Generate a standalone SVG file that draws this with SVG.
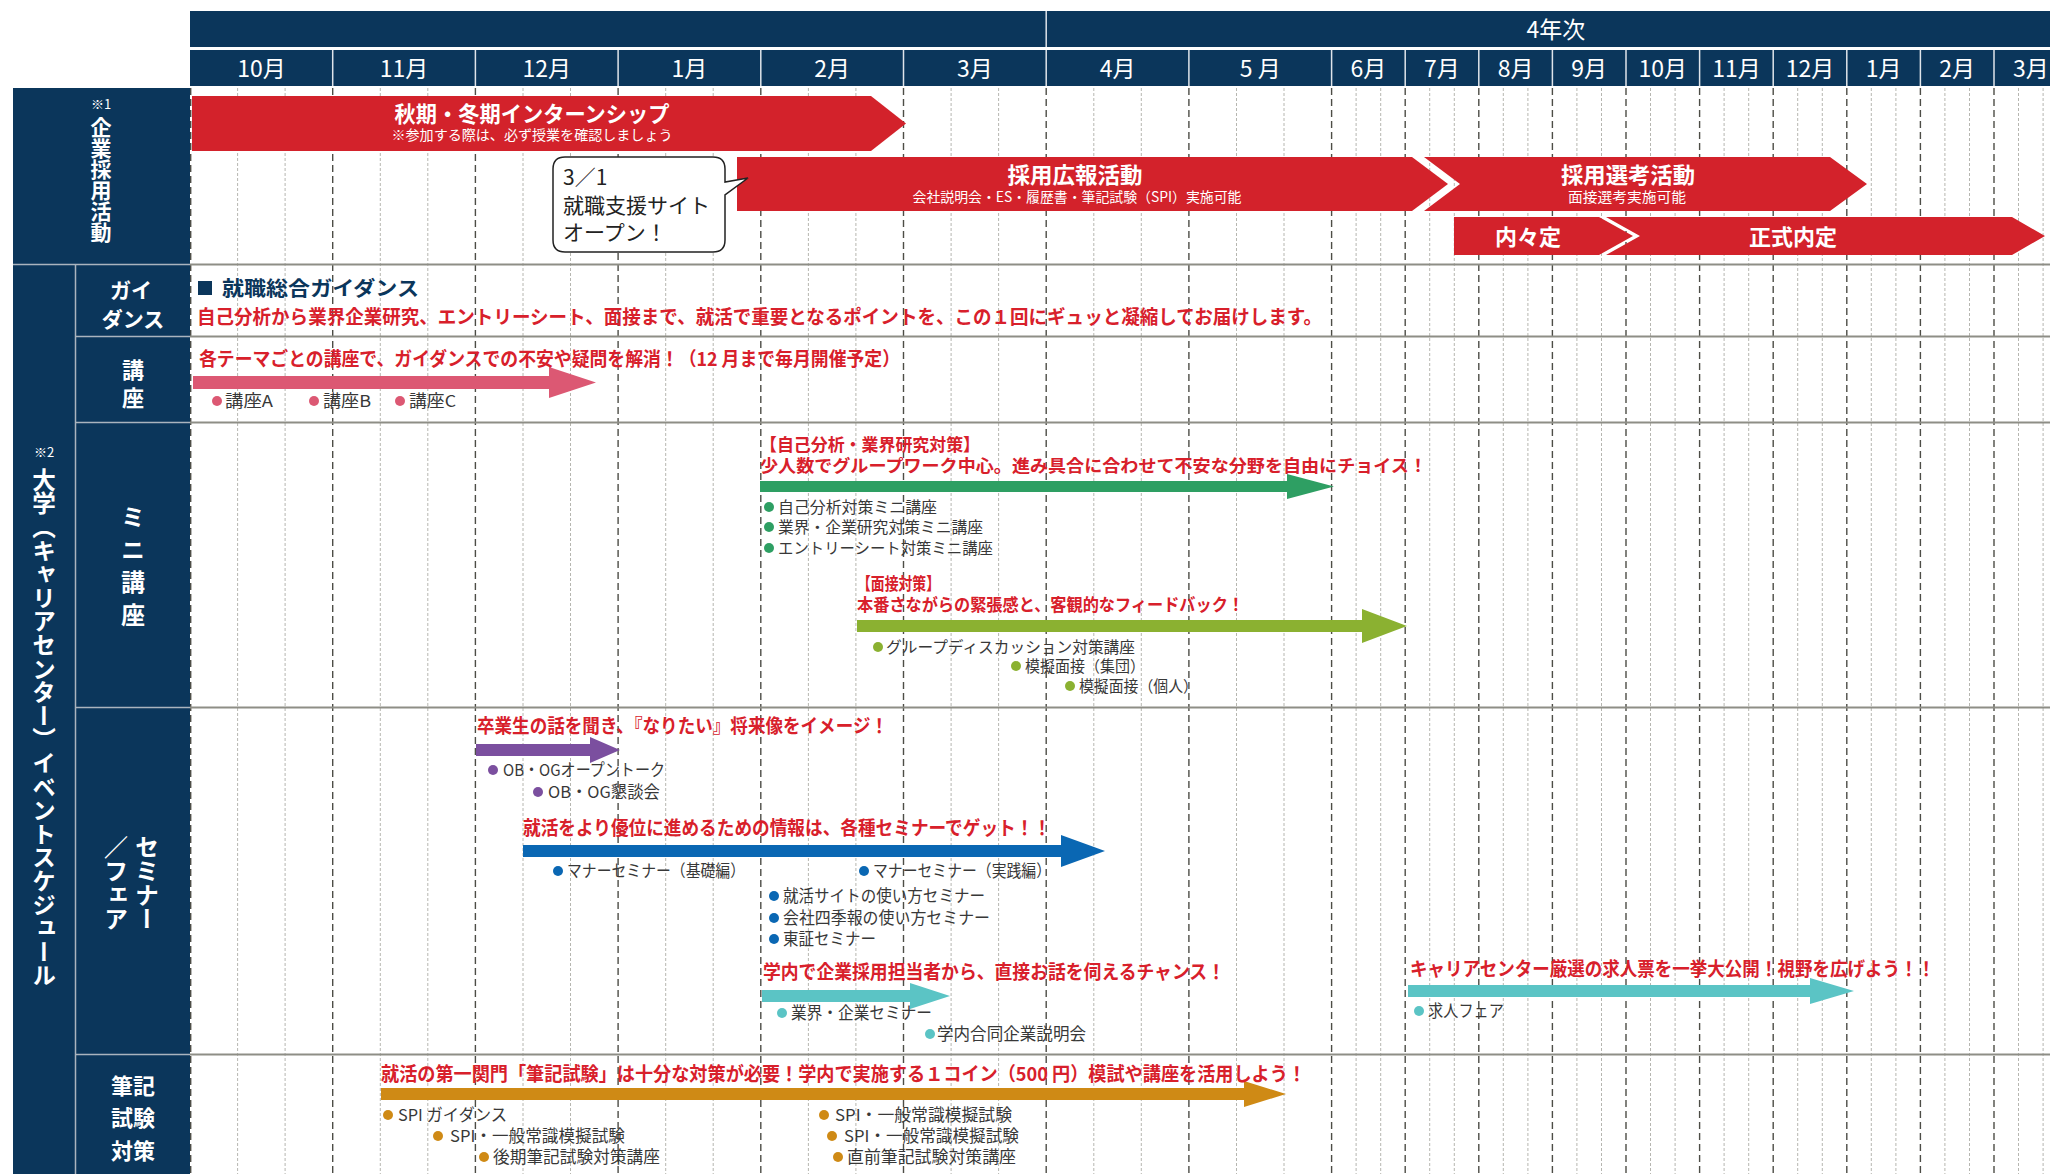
<svg xmlns="http://www.w3.org/2000/svg" width="2050" height="1174" viewBox="0 0 2050 1174">
<style>
text{font-family:"Noto Sans CJK JP","Noto Sans",sans-serif}
.navy{fill:#0b365b}
.wl{font-weight:700;fill:#fff}
.vt{writing-mode:vertical-rl}
.mon{font-size:23px;fill:#fff;text-anchor:middle}
.mj{fill:none;stroke:#4d4d46;stroke-width:1.4;stroke-dasharray:7 4}
.mn{fill:none;stroke:#a3a39c;stroke-width:0.8;stroke-dasharray:3 2}
.hsep{stroke:#8e8e86;stroke-width:2}
.lsep{stroke:#aab4be;stroke-width:1.5}
.bar{fill:#d3222b}
.bt{font-size:22px;font-weight:700;fill:#fff;text-anchor:middle}
.bs{font-size:14px;fill:#fff;text-anchor:middle}
.hl{font-size:19px;font-weight:700;fill:#d8202b}
.hs{font-size:17.5px}
.it{font-size:16.5px;fill:#383838}
.is{font-size:15.5px}
.pk{fill:#dc5873}.gr{fill:#2e9f63}.ol{fill:#8bb131}.pu{fill:#7b4f9f}.bl{fill:#0a67b3}.tl{fill:#5bc4c5}.or{fill:#cf8a15}
</style>

<g id="header">
<rect class="navy" x="190" y="11" width="1860" height="36"/>
<rect class="navy" x="190" y="50" width="1860" height="36"/>
<line x1="1046.2" y1="11" x2="1046.2" y2="47" stroke="#dfe4ea" stroke-width="1.5"/>
<text x="1556" y="38" class="mon">4年次</text>
<path d="M332.7 50V86M475.4 50V86M618.1 50V86M760.8 50V86M903.5 50V86M1046.2 50V86M1188.9 50V86M1331.6 50V86M1405.2 50V86M1478.8 50V86M1552.4 50V86M1626 50V86M1699.6 50V86M1773.2 50V86M1846.8 50V86M1920.4 50V86M1994 50V86" stroke="#dfe4ea" stroke-width="1.5"/>
<g class="mon">
<text x="261.4" y="77">10月</text><text x="404.1" y="77">11月</text><text x="546.8" y="77">12月</text><text x="689.5" y="77">1月</text><text x="832.2" y="77">2月</text><text x="974.9" y="77">3月</text><text x="1117.6" y="77">4月</text><text x="1260.3" y="77">5 月</text><text x="1368.4" y="77">6月</text><text x="1442" y="77">7月</text><text x="1515.6" y="77">8月</text><text x="1589.2" y="77">9月</text><text x="1662.8" y="77">10月</text><text x="1736.4" y="77">11月</text><text x="1810" y="77">12月</text><text x="1883.6" y="77">1月</text><text x="1957.2" y="77">2月</text><text x="2030.8" y="77">3月</text>
</g>
</g>

<g id="grid">
<path class="mn" d="M237.6 88V1174M285.1 88V1174M380.3 88V1174M427.8 88V1174M523 88V1174M570.5 88V1174M665.7 88V1174M713.2 88V1174M808.4 88V1174M855.9 88V1174M951.1 88V1174M998.6 88V1174M1093.8 88V1174M1141.3 88V1174M1236.5 88V1174M1284 88V1174M1356.1 88V1174M1380.7 88V1174M1429.7 88V1174M1454.3 88V1174M1503.3 88V1174M1527.9 88V1174M1576.9 88V1174M1601.5 88V1174M1650.5 88V1174M1675.1 88V1174M1724.1 88V1174M1748.7 88V1174M1797.7 88V1174M1822.3 88V1174M1871.3 88V1174M1895.9 88V1174M1944.9 88V1174M1969.5 88V1174M2018.5 88V1174M2043.1 88V1174"/>
<path class="mj" d="M190.7 88V1174M332.7 88V1174M475.4 88V1174M618.1 88V1174M760.8 88V1174M903.5 88V1174M1046.2 88V1174M1188.9 88V1174M1331.6 88V1174M1405.2 88V1174M1478.8 88V1174M1552.4 88V1174M1626 88V1174M1699.6 88V1174M1773.2 88V1174M1846.8 88V1174M1920.4 88V1174M1994 88V1174"/>
<path class="hsep" d="M190 264.5H2050M190 336.5H2050M190 422.5H2050M190 707.5H2050M190 1054.5H2050"/>
</g>

<g id="left-labels">
<rect class="navy" x="13" y="88" width="177" height="1086"/>
<path class="lsep" d="M13 264.5H190M75.5 265V1174M76 336.5H190M76 422.5H190M76 707.5H190M76 1054.5H190"/>
<g id="label-kigyo">
<text x="101" y="109" font-size="13" fill="#fff" text-anchor="middle">※1</text>
<text class="wl vt" x="101" y="117" font-size="21">企業採用活動</text>
</g>
<g id="label-daigaku">
<text x="44" y="457" font-size="13" fill="#fff" text-anchor="middle">※2</text>
<text class="wl vt" x="44" y="468" font-size="23.6">大学（キャリアセンター）イベントスケジュール</text>
</g>
<g id="label-guidance"><text class="wl" font-size="21" text-anchor="middle"><tspan x="131" y="298">ガイ</tspan><tspan x="133" y="327">ダンス</tspan></text></g>
<g id="label-koza"><text class="wl" font-size="22" text-anchor="middle"><tspan x="133" y="378">講</tspan><tspan x="133" y="406">座</tspan></text></g>
<g id="label-mini"><text class="wl vt" x="133" y="505" font-size="24" letter-spacing="8.5">ミニ講座</text></g>
<g id="label-seminar">
<text class="wl vt" x="147" y="835" font-size="24">セミナー</text>
<text class="wl vt" x="116" y="835" font-size="24">／フェア</text>
</g>
<g id="label-hikki"><text class="wl" font-size="22" text-anchor="middle"><tspan x="133" y="1094">筆記</tspan><tspan x="133" y="1126">試験</tspan><tspan x="133" y="1159">対策</tspan></text></g>
</g>

<g id="connectors">
<path id="bar-intern" class="bar" d="M192 96H871L906 123.5L871 151H192Z"/>
<path id="bar-koho" class="bar" d="M737 157H1412L1448 184L1412 211H737Z"/>
<path id="bar-senko" class="bar" d="M1424 157H1830L1867 184L1830 211H1424L1460 184Z"/>
<path id="bar-nainai" class="bar" d="M1454 217H1599L1633 236L1599 255H1454Z"/>
<path id="bar-seishiki" class="bar" d="M1606 217H2012L2045 236L2012 255H1606L1640 236Z"/>
<path id="arrow-koza" class="pk" d="M193 376H549V367L596 382.5L549 398V389H193Z"/>
<path id="arrow-jiko" class="gr" d="M760 481H1287V474L1334 486.5L1287 499V492H760Z"/>
<path id="arrow-mensetsu" class="ol" d="M857 620H1362V609L1407 626L1362 643V632H857Z"/>
<path id="arrow-obog" class="pu" d="M476 744H590V737L620 750L590 763V756H476Z"/>
<path id="arrow-seminar" class="bl" d="M523 845H1061V835L1105 851L1061 867V857H523Z"/>
<path id="arrow-gakunai" class="tl" d="M762 990H910V983L950 996L910 1009V1002H762Z"/>
<path id="arrow-kyujin" class="tl" d="M1408 985H1810V978L1854 991L1810 1004V997H1408Z"/>
<path id="arrow-hikki" class="or" d="M381 1088H1244V1081L1286 1094L1244 1107V1100H381Z"/>
</g>

<g id="node-intern">
<text class="bt" x="532" y="122" textLength="275" lengthAdjust="spacingAndGlyphs">秋期・冬期インターンシップ</text>
<text class="bs" x="532" y="140" textLength="281" lengthAdjust="spacingAndGlyphs">※参加する際は、必ず授業を確認しましょう</text>
</g>
<g id="node-callout">
<path d="M565 157H713Q725 157 725 169V182L748 178L725 195V240Q725 252 713 252H565Q553 252 553 240V169Q553 157 565 157Z" fill="#fff" stroke="#222" stroke-width="1.5"/>
<text font-size="21" fill="#222"><tspan x="563" y="185">3／1</tspan><tspan x="563" y="213">就職支援サイト</tspan><tspan x="563" y="240">オープン！</tspan></text>
</g>
<g id="node-koho">
<text class="bt" x="1075" y="183" textLength="135" lengthAdjust="spacingAndGlyphs">採用広報活動</text>
<text class="bs" x="1077" y="202" textLength="329" lengthAdjust="spacingAndGlyphs">会社説明会・ES・履歴書・筆記試験（SPI）実施可能</text>
</g>
<g id="node-senko">
<text class="bt" x="1628" y="183" textLength="134" lengthAdjust="spacingAndGlyphs">採用選考活動</text>
<text class="bs" x="1627" y="202" textLength="118" lengthAdjust="spacingAndGlyphs">面接選考実施可能</text>
</g>
<g id="node-naitei">
<text class="bt" x="1528" y="245">内々定</text>
<text class="bt" x="1793" y="245">正式内定</text>
</g>

<g id="node-guidance">
<rect x="198" y="281" width="14" height="14" fill="#0b365b"/>
<text x="222" y="296" font-size="20" font-weight="700" fill="#0b365b" textLength="197" lengthAdjust="spacingAndGlyphs">就職総合ガイダンス</text>
<text class="hl" x="197" y="324" font-size="20" textLength="1125" lengthAdjust="spacingAndGlyphs">自己分析から業界企業研究、エントリーシート、面接まで、就活で重要となるポイントを、この１回にギュッと凝縮してお届けします。</text>
</g>

<g id="node-koza">
<text class="hl" x="199" y="366" textLength="701" lengthAdjust="spacingAndGlyphs">各テーマごとの講座で、ガイダンスでの不安や疑問を解消！（12 月まで毎月開催予定）</text>
<circle class="pk" cx="217" cy="401" r="5"/><text class="it" x="225" y="407" textLength="48" lengthAdjust="spacingAndGlyphs">講座A</text>
<circle class="pk" cx="314" cy="401" r="5"/><text class="it" x="323" y="407" textLength="48" lengthAdjust="spacingAndGlyphs">講座B</text>
<circle class="pk" cx="400" cy="401" r="5"/><text class="it" x="409" y="407" textLength="47" lengthAdjust="spacingAndGlyphs">講座C</text>
</g>

<g id="node-jiko">
<text class="hl hs" x="760" y="451" textLength="220" lengthAdjust="spacingAndGlyphs">【自己分析・業界研究対策】</text>
<text class="hl hs" x="760" y="472" textLength="667" lengthAdjust="spacingAndGlyphs">少人数でグループワーク中心。進み具合に合わせて不安な分野を自由にチョイス！</text>
<circle class="gr" cx="769" cy="507" r="5"/><text class="it is" x="778" y="513" textLength="159" lengthAdjust="spacingAndGlyphs">自己分析対策ミニ講座</text>
<circle class="gr" cx="769" cy="527" r="5"/><text class="it is" x="778" y="533" textLength="205" lengthAdjust="spacingAndGlyphs">業界・企業研究対策ミニ講座</text>
<circle class="gr" cx="769" cy="548" r="5"/><text class="it is" x="778" y="554" textLength="215" lengthAdjust="spacingAndGlyphs">エントリーシート対策ミニ講座</text>
</g>

<g id="node-mensetsu">
<text class="hl hs" x="857" y="590" textLength="83" lengthAdjust="spacingAndGlyphs">【面接対策】</text>
<text class="hl hs" x="857" y="611" textLength="387" lengthAdjust="spacingAndGlyphs">本番さながらの緊張感と、客観的なフィードバック！</text>
<circle class="ol" cx="878" cy="647" r="5"/><text class="it is" x="886" y="653" textLength="249" lengthAdjust="spacingAndGlyphs">グループディスカッション対策講座</text>
<circle class="ol" cx="1016" cy="666" r="5"/><text class="it is" x="1025" y="672" textLength="120" lengthAdjust="spacingAndGlyphs">模擬面接（集団）</text>
<circle class="ol" cx="1070" cy="686" r="5"/><text class="it is" x="1079" y="692" textLength="119" lengthAdjust="spacingAndGlyphs">模擬面接（個人）</text>
</g>

<g id="node-obog">
<text class="hl" x="477" y="733" textLength="411" lengthAdjust="spacingAndGlyphs">卒業生の話を聞き、『なりたい』将来像をイメージ！</text>
<circle class="pu" cx="493" cy="770" r="5"/><text class="it" x="503" y="776" textLength="162" lengthAdjust="spacingAndGlyphs">OB・OGオープントーク</text>
<circle class="pu" cx="538" cy="792" r="5"/><text class="it" x="548" y="798" textLength="112" lengthAdjust="spacingAndGlyphs">OB・OG懇談会</text>
</g>

<g id="node-seminar">
<text class="hl" x="523" y="835" textLength="528" lengthAdjust="spacingAndGlyphs">就活をより優位に進めるための情報は、各種セミナーでゲット！！</text>
<circle class="bl" cx="558" cy="871" r="5"/><text class="it" x="567" y="877" textLength="178" lengthAdjust="spacingAndGlyphs">マナーセミナー（基礎編）</text>
<circle class="bl" cx="864" cy="871" r="5"/><text class="it" x="873" y="877" textLength="178" lengthAdjust="spacingAndGlyphs">マナーセミナー（実践編）</text>
<circle class="bl" cx="774" cy="896" r="5"/><text class="it" x="783" y="902" textLength="202" lengthAdjust="spacingAndGlyphs">就活サイトの使い方セミナー</text>
<circle class="bl" cx="774" cy="918" r="5"/><text class="it" x="783" y="924" textLength="207" lengthAdjust="spacingAndGlyphs">会社四季報の使い方セミナー</text>
<circle class="bl" cx="774" cy="939" r="5"/><text class="it" x="783" y="945" textLength="93" lengthAdjust="spacingAndGlyphs">東証セミナー</text>
</g>

<g id="node-gakunai">
<text class="hl" x="763" y="979" textLength="462" lengthAdjust="spacingAndGlyphs">学内で企業採用担当者から、直接お話を伺えるチャンス！</text>
<circle class="tl" cx="782" cy="1013" r="5"/><text class="it" x="791" y="1019" textLength="141" lengthAdjust="spacingAndGlyphs">業界・企業セミナー</text>
<circle class="tl" cx="930" cy="1034" r="5"/><text class="it" x="937" y="1040" textLength="149" lengthAdjust="spacingAndGlyphs">学内合同企業説明会</text>
</g>

<g id="node-kyujin">
<text class="hl" x="1410" y="976" textLength="525" lengthAdjust="spacingAndGlyphs">キャリアセンター厳選の求人票を一挙大公開！視野を広げよう！！</text>
<circle class="tl" cx="1419" cy="1011" r="5"/><text class="it" x="1428" y="1017" textLength="76" lengthAdjust="spacingAndGlyphs">求人フェア</text>
</g>

<g id="node-hikki">
<text class="hl" x="381" y="1081" textLength="925" lengthAdjust="spacingAndGlyphs">就活の第一関門「筆記試験」は十分な対策が必要！学内で実施する１コイン（500 円）模試や講座を活用しよう！</text>
<circle class="or" cx="388" cy="1115" r="5"/><text class="it" x="398" y="1121" textLength="109" lengthAdjust="spacingAndGlyphs">SPI ガイダンス</text>
<circle class="or" cx="438" cy="1136" r="5"/><text class="it" x="450" y="1142" textLength="175" lengthAdjust="spacingAndGlyphs">SPI・一般常識模擬試験</text>
<circle class="or" cx="484" cy="1157" r="5"/><text class="it" x="493" y="1163" textLength="167" lengthAdjust="spacingAndGlyphs">後期筆記試験対策講座</text>
<circle class="or" cx="824" cy="1115" r="5"/><text class="it" x="835" y="1121" textLength="177" lengthAdjust="spacingAndGlyphs">SPI・一般常識模擬試験</text>
<circle class="or" cx="832" cy="1136" r="5"/><text class="it" x="844" y="1142" textLength="175" lengthAdjust="spacingAndGlyphs">SPI・一般常識模擬試験</text>
<circle class="or" cx="838" cy="1157" r="5"/><text class="it" x="847" y="1163" textLength="169" lengthAdjust="spacingAndGlyphs">直前筆記試験対策講座</text>
</g>
</svg>
